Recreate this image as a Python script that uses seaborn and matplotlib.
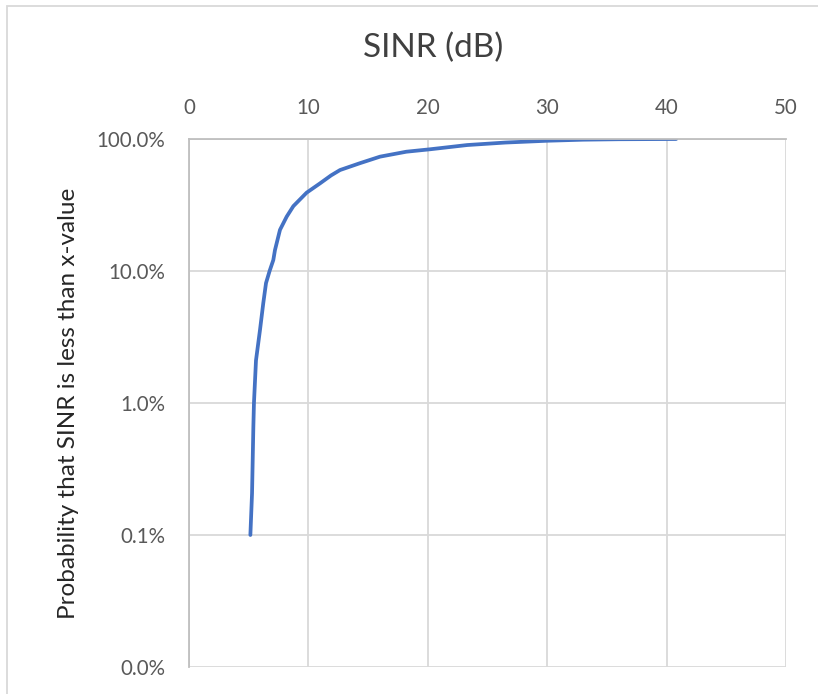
import matplotlib
matplotlib.use("Agg")
import matplotlib.pyplot as plt
import matplotlib.ticker as mticker
from matplotlib.patches import Rectangle
import seaborn as sns
import pandas as pd

# SINR (dB) values along the CDF curve
sinr_db = [5.14, 5.28, 5.39, 5.44, 5.61, 5.95, 6.22, 6.45, 6.75, 7.06, 7.2,
           7.62, 8.18, 8.74, 9.85, 10.97, 11.9, 12.65, 14.3, 16.0, 18.2,
           20.2, 23.3, 26.5, 30.0, 33.0, 36.0, 40.8]
# cumulative probability in percent
prob_pct = [0.1, 0.207, 0.66, 1.0, 2.1, 3.6, 5.7, 8.1, 10.0, 12.1, 14.4,
            20.5, 25.8, 31.0, 39.2, 46.1, 53.0, 58.2, 65.5, 73.5, 80.1,
            83.6, 90.0, 94.0, 97.0, 98.8, 99.6, 100.0]

x_ticks = [0, 10, 20, 30, 40, 50]
y_ticks = [0.0001, 0.001, 0.01, 0.1, 1.0]

df = pd.DataFrame({"sinr": sinr_db, "p": [v / 100 for v in prob_pct]})

sns.set_theme(style="white")
plt.rcParams["font.family"] = ["Lato", "DejaVu Sans"]

W, H = 818, 694
fig = plt.figure(figsize=(W / 100, H / 100), dpi=100)
ax = fig.add_axes([189 / W, 1 - 667 / H, (786 - 189) / W, (667 - 139) / H])

sns.lineplot(data=df, x="sinr", y="p", ax=ax, color="#4472C4",
             linewidth=2.7, estimator=None, sort=False)

ax.set_yscale("log")
ax.set_xlim(0, 50)
ax.set_ylim(1e-4, 1.0)
ax.set_xticks(x_ticks)
ax.set_yticks(y_ticks)
ax.yaxis.set_minor_locator(mticker.NullLocator())
ax.yaxis.set_major_formatter(mticker.FuncFormatter(lambda v, _: f"{v*100:.1f}%"))
ax.xaxis.tick_top()
ax.tick_params(axis="both", length=0, labelsize=14.8, colors="#595959")
ax.tick_params(axis="x", pad=15)
ax.tick_params(axis="y", pad=17)

ax.grid(True, color="#D9D9D9", linewidth=1.3)
ax.set_axisbelow(True)
for side in ["right", "bottom"]:
    ax.spines[side].set_visible(False)
for side in ["left", "top"]:
    ax.spines[side].set_visible(True)
    ax.spines[side].set_color("#BFBFBF")
    ax.spines[side].set_linewidth(1.3)

ax.set_xlabel("")
ax.set_ylabel("Probability that SINR is less than x-value", fontsize=17.5,
              color="#262626", labelpad=13)

fig.text(433 / W, 1 - 48 / H, "SINR (dB)", ha="center", va="center",
         fontsize=24, color="#404040")

fig.patches.append(Rectangle((7 / W, -0.1), 1.2, 1 - 6 / H + 0.1,
                             transform=fig.transFigure, fill=False,
                             edgecolor="#D9D9D9", linewidth=1.3))

fig.savefig("out.png", dpi=100, facecolor="white")
